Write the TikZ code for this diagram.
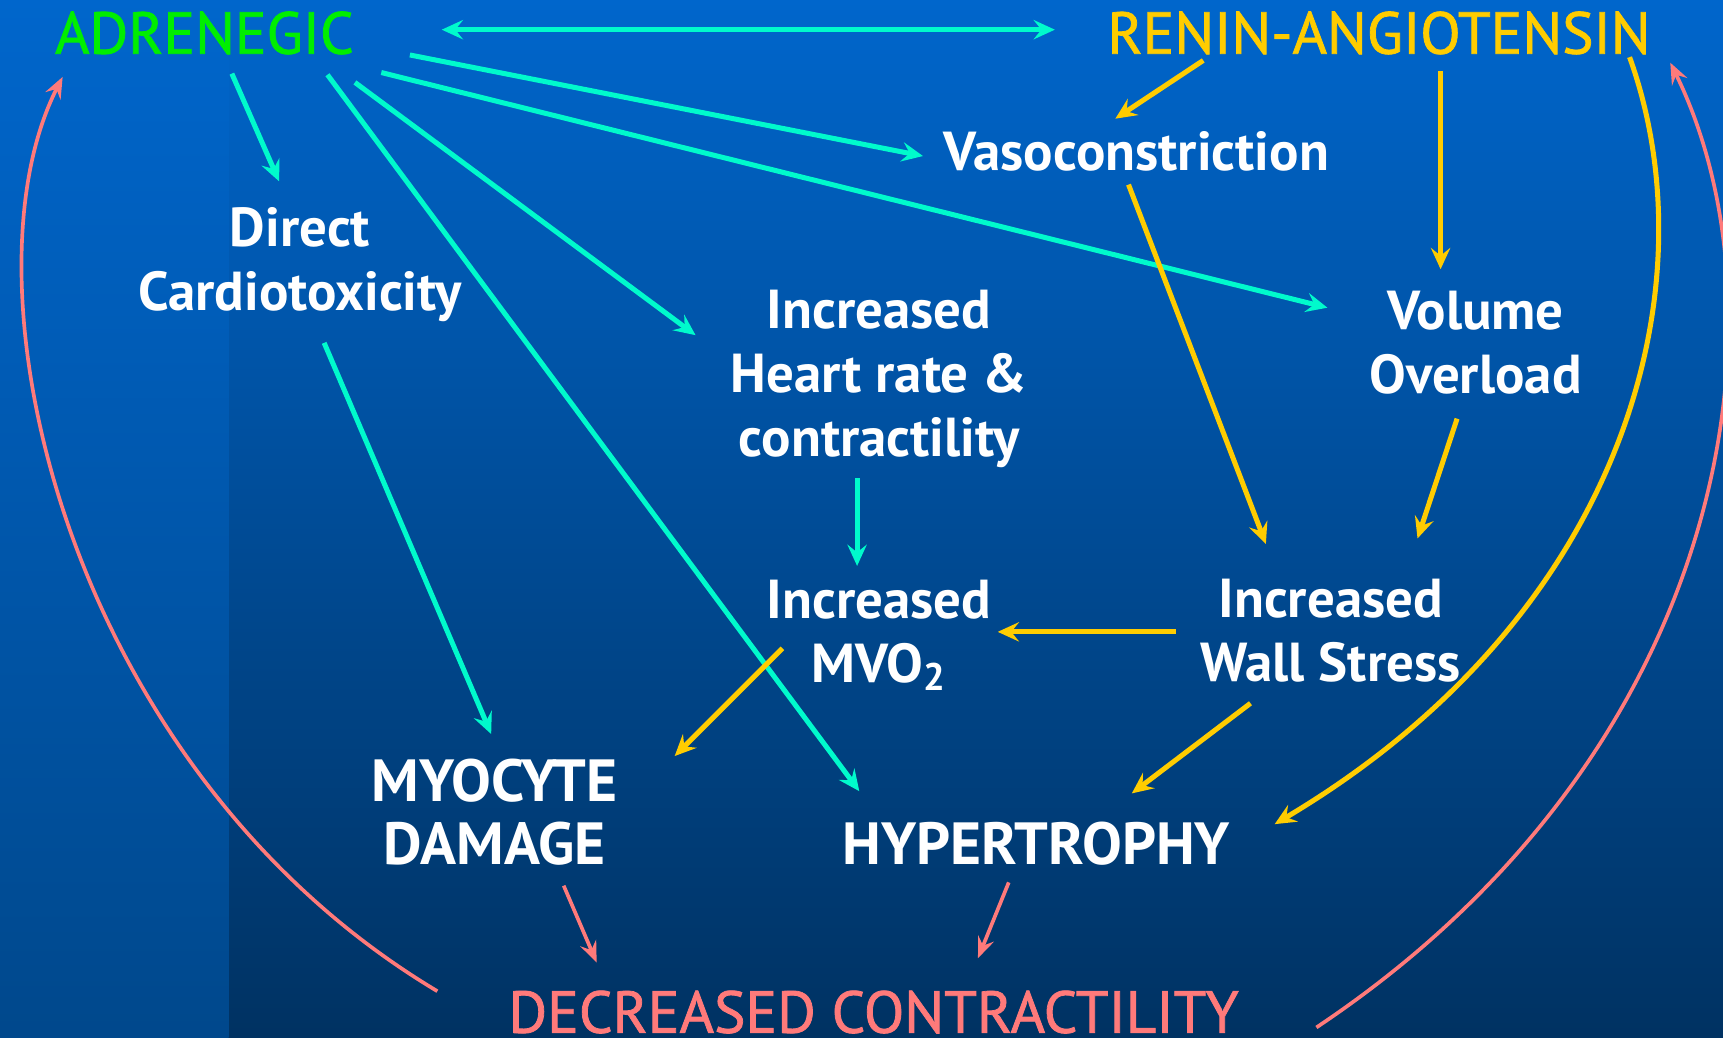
\documentclass[tikz,border=0pt]{standalone}
\usepackage{fontspec}
\setmainfont{PT Sans}
\newfontfamily\headfont{PT Sans}[FakeBold=1.3]
\usetikzlibrary{arrows.meta}
\definecolor{bgtop}{RGB}{0,102,204}
\definecolor{bgbot}{RGB}{0,50,98}
\definecolor{stripbot}{RGB}{0,72,140}
\definecolor{cyanl}{RGB}{0,250,204}
\definecolor{goldl}{RGB}{255,204,0}
\definecolor{salm}{RGB}{255,122,122}
\definecolor{greenl}{RGB}{0,238,0}
\tikzset{
  lbl/.style={inner sep=0pt, align=center, text=white, font=\fontsize{14.2pt}{16.5pt}\selectfont\bfseries},
  capslbl/.style={inner sep=0pt, align=center, text=white, font=\fontsize{15.4pt}{16.5pt}\selectfont\bfseries},
  head/.style={inner sep=0pt, font=\headfont\fontsize{15.3pt}{16.5pt}\selectfont},
  arr/.style={line width=1.3pt, -{Stealth[length=5.5pt,width=5pt,inset=2pt]}},
  cy/.style={arr, draw=cyanl, fill=cyanl},
  go/.style={arr, draw=goldl, fill=goldl},
  sa/.style={line width=0.95pt, draw=salm, -{Stealth[length=5.5pt,width=4.4pt,inset=2pt]}},
}
\begin{document}
\begin{tikzpicture}[x=0.01cm,y=-0.01cm]
\clip (0,0) rectangle (1568,944);
\useasboundingbox (0,0) rectangle (1568,944);
\shade[top color=bgtop, bottom color=bgbot] (0,0) rectangle (1568,944);
\shade[top color=bgtop, bottom color=stripbot] (0,0) rectangle (208,944);

% nodes
\node[head, text=greenl] (adr) at (186,30) {ADRENEGIC};
\node[head, text=goldl] (ren) at (1255,30) {RENIN-ANGIOTENSIN};
\node[lbl] (vaso) at (1034,138) {Vasoconstriction};
\node[lbl] (direct) at (273,241) {Direct\\Cardiotoxicity};
\node[lbl] (heart) at (800,345) {Increased\\Heart rate \&\\contractility};
\node[lbl] (volume) at (1343,312) {Volume\\Overload};
\node[lbl] (mvo) at (800,578) {Increased\\MVO\textsubscript{2}};
\node[lbl] (wall) at (1211,574) {Increased\\Wall Stress};
\node[capslbl] (myo) at (450,739) {MYOCYTE\\DAMAGE};
\node[capslbl] (hyper) at (943,768) {HYPERTROPHY};
\node[head, text=salm] (dec) at (795,921) {DECREASED CONTRACTILITY};

% cyan connectors
\draw[cy, {Stealth[length=5.5pt,width=5pt,inset=2pt]}-{Stealth[length=5.5pt,width=5pt,inset=2pt]}]
  ([shift={(216,-3)}]adr.center) -- ([shift={(-295,-3)}]ren.center);
\draw[cy] ([shift={(25,37)}]adr.center) -- ([shift={(-19,-76)}]direct.center);
\draw[cy] ([shift={(112,38)}]adr.center) -- ([shift={(-161,-48)}]hyper.center);
\draw[cy] ([shift={(137,45)}]adr.center) -- ([shift={(-167,-40)}]heart.center);
\draw[cy] ([shift={(161,36)}]adr.center) -- ([shift={(-135,-32)}]volume.center);
\draw[cy] ([shift={(187,20)}]adr.center) -- ([shift={(-194,4)}]vaso.center);
\draw[cy] ([shift={(22,71)}]direct.center) -- ([shift={(-3,-71)}]myo.center);
\draw[cy] ([shift={(-20,90)}]heart.center) -- ([shift={(-20,-63)}]mvo.center);

% gold connectors
\draw[go] ([shift={(-160,25)}]ren.center) -- ([shift={(-19,-30)}]vaso.center);
\draw[go] ([shift={(56,35)}]ren.center) -- ([shift={(-32,-67)}]volume.center);
\draw[go] ([shift={(-7,30)}]vaso.center) -- ([shift={(-59,-79)}]wall.center);
\draw[go] ([shift={(-17,69)}]volume.center) -- ([shift={(79,-84)}]wall.center);
\draw[go] ([shift={(-141,1)}]wall.center) -- ([shift={(108,-3)}]mvo.center);
\draw[go] ([shift={(-88,12)}]mvo.center) -- ([shift={(164,-51)}]myo.center);
\draw[go] ([shift={(-73,66)}]wall.center) -- ([shift={(87,-46)}]hyper.center);
\draw[go, fill=none] ([shift={(228,22)}]ren.center) .. controls (1558,260) and (1480,560) .. ([shift={(217,-18)}]hyper.center);

% salmon connectors
\draw[sa] ([shift={(63,67)}]myo.center) -- ([shift={(-252,-45)}]dec.center);
\draw[sa] ([shift={(-25,35)}]hyper.center) -- ([shift={(95,-49)}]dec.center);
\draw[sa] ([shift={(-397,-19)}]dec.center) .. controls (60,700) and (-40,260) .. ([shift={(-129,40)}]adr.center);
\draw[sa] ([shift={(403,14)}]dec.center) .. controls (1580,680) and (1630,280) .. ([shift={(265,27)}]ren.center);
\end{tikzpicture}
\end{document}
